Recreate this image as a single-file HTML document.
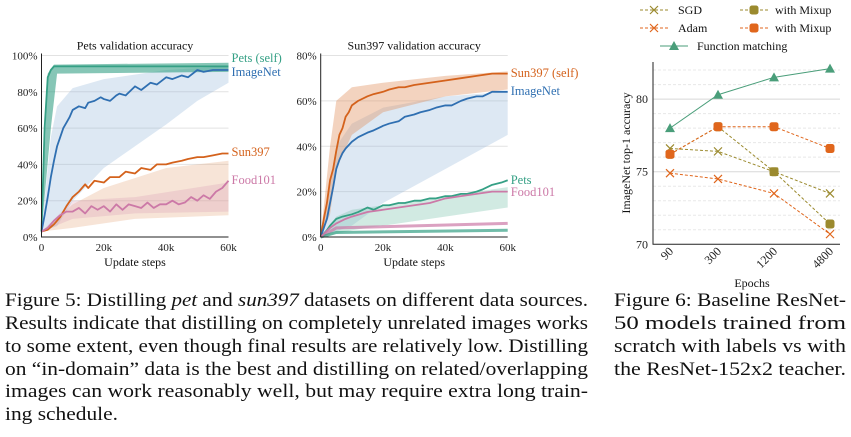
<!DOCTYPE html>
<html><head><meta charset="utf-8">
<style>
body{margin:0;background:#fff;}
svg{display:block;font-family:"Liberation Serif","Times New Roman",serif;}
</style></head>
<body>
<svg id="root" width="851" height="437" viewBox="0 0 851 437">
<g id="c1"></g>
<g id="c2"></g>
<g id="c3"></g>
<g font-size="19" fill="#111">
<text x="5" y="306" textLength="583" lengthAdjust="spacingAndGlyphs">Figure 5: Distilling <tspan font-style="italic">pet</tspan> and <tspan font-style="italic">sun397</tspan> datasets on different data sources.</text>
<text x="5" y="329" textLength="583" lengthAdjust="spacingAndGlyphs">Results indicate that distilling on completely unrelated images works</text>
<text x="5" y="352" textLength="583" lengthAdjust="spacingAndGlyphs">to some extent, even though final results are relatively low. Distilling</text>
<text x="5" y="375" textLength="583" lengthAdjust="spacingAndGlyphs">on “in-domain” data is the best and distilling on related/overlapping</text>
<text x="5" y="397" textLength="583" lengthAdjust="spacingAndGlyphs">images can work reasonably well, but may require extra long train-</text>
<text x="5" y="420" textLength="113" lengthAdjust="spacingAndGlyphs">ing schedule.</text>
</g>
<g font-size="19" fill="#111">
<text x="614" y="306" textLength="232" lengthAdjust="spacingAndGlyphs">Figure 6: Baseline ResNet-</text>
<text x="614" y="329" textLength="232" lengthAdjust="spacingAndGlyphs">50   models   trained   from</text>
<text x="614" y="352" textLength="232" lengthAdjust="spacingAndGlyphs">scratch with labels vs with</text>
<text x="614" y="375" textLength="232" lengthAdjust="spacingAndGlyphs">the ResNet-152x2 teacher.</text>
</g>
</svg>
<script>
// ---------- Pets chart data ----------
const petsTicksY = [0,20,40,60,80,100];
const stepTicks = [0,20,40,60];
const petsSelfX = [0,1,2,3,4,5,10,20,30,40,50,60];
const petsSelfY = [3,60,88,92,94,94,94,94,94,94,94,94];
const petsImgX = [0,1,2,3,4,5,6,7,8,9,10,12,14,15,17,19,20,22,24,25,27,30,32,35,37,40,42,45,47,50,52,55,58,60];
const petsImgY = [3,12,22,33,42,50,55,60,63,66,70,72,71,74,75,77,76,75,78,79,78,83,81,85,84,88,87,89,88,92,91,92,92,92];
const petsSunX = [0,2,4,6,8,10,12,14,15,17,20,22,25,27,30,32,35,37,40,42,45,47,50,52,55,58,60];
const petsSunY = [3,4,7,11,17,22,25,29,27,31,30,33,33,36,35,38,37,40,40,41,42,43,44,44,45,46,46];
const petsFoodX = [0,2,4,6,8,10,12,14,16,18,20,22,24,26,28,30,32,34,36,38,40,42,44,46,48,50,52,54,56,58,60];
const petsFoodY = [3,5,9,12,14,14,16,13,17,15,17,14,18,15,18,17,16,19,16,18,18,20,18,19,22,20,23,21,25,27,31];
const petsCloudImgLo = [[0,3],[5,6],[10,20],[20,38],[30,50],[40,62],[50,75],[60,85]];
const petsCloudImgHi = [[0,3],[3,55],[5,72],[10,82],[20,87],[40,92],[60,94]];
const petsCloudSunLo = [[0,3],[10,5],[30,10],[60,12]];
const petsCloudSunHi = [[0,3],[10,18],[20,27],[40,38],[60,42]];
const petsCloudFoodLo = [[0,3],[10,10],[30,13],[60,14]];
const petsCloudFoodHi = [[0,3],[10,20],[30,22],[60,30]];
const petsCloudSelfLo = [[0,3],[3,60],[5,90],[60,91]];
const petsCloudSelfHi = [[0,3],[2,90],[4,95],[60,96]];
// ---------- Sun397 chart data ----------
const sunTicksY = [0,20,40,60,80];
const sunSelfX = [0,1,2,3,4,5,6,7,8,9,10,12,15,17,20,22,25,27,30,35,40,45,50,55,60];
const sunSelfY = [0,8,15,25,30,38,45,48,53,55,58,60,62,63,64,65,66,66,67,68,69,70,71,72,72];
const sunImgX = [0,2,3,4,5,6,7,8,10,12,15,17,20,22,25,27,30,32,35,37,40,42,45,47,50,52,55,58,60];
const sunImgY = [0,8,15,22,30,34,37,39,42,44,46,47,49,50,51,53,54,55,56,57,58,58,60,61,62,62,64,64,64];
const sunPetsX = [0,2,3,5,7,10,12,15,17,20,22,25,27,30,32,35,37,40,42,45,47,50,52,55,58,60];
const sunPetsY = [0,3,5,8,9,10,11,13,12,14,14,15,15,16,16,17,17,18,18,19,19,20,21,23,24,25];
const sunFoodX = [0,3,5,8,10,15,20,25,30,35,40,45,50,55,60];
const sunFoodY = [0,4,6,8,9,11,12,13,14,15,17,18,19,20,20];
const sunCloudSelfLo = [[0,0],[3,10],[5,30],[10,45],[20,55],[40,62],[60,65]];
const sunCloudSelfHi = [[0,0],[3,40],[5,60],[10,66],[20,68],[40,71],[60,73]];
const sunCloudImgLo = [[0,0],[10,5],[20,15],[40,30],[60,45]];
const sunCloudImgHi = [[0,0],[5,40],[10,50],[20,57],[40,62],[60,64]];
const sunCloudPetsLo = [[0,0],[10,3],[60,13]];
const sunCloudPetsHi = [[0,0],[5,9],[10,12],[60,22]];
const sunFlatPink = [[0,0],[5,4],[60,6]];
const sunFlatGreen = [[0,0],[5,2],[60,3]];
// ---------- ResNet chart data ----------
const epochs = ["90","300","1200","4800"];
const fmVals = [78.0,80.3,81.5,82.1];
const sgdVals = [76.6,76.4,75.0,73.5];
const sgdMixVals = [76.2,78.1,75.0,71.4];
const adamVals = [74.9,74.5,73.5,70.7];
const adamMixVals = [76.2,78.1,78.1,76.6];
const accTicks = [70,75,80];

const NS="http://www.w3.org/2000/svg";
function mk(parent,tag,attrs,txt){const e=document.createElementNS(NS,tag);for(const k in attrs)e.setAttribute(k,attrs[k]);if(txt!==undefined)e.textContent=txt;parent.appendChild(e);return e;}
const TEAL="#35a085",BLUE="#2f6fb1",ORANGE="#d4621c",PINK="#cc79a7";

function lineChart(g,x0,x1,y0,y1,ymax,yTicks,title,cfg){
  const sx=v=>x0+(x1-x0)*v/60, sy=v=>y0-(y0-y1)*v/ymax;
  yTicks.forEach(t=>{
    if(t>0){const l=mk(g,"line",{x1:x0,x2:x1,y1:sy(t),y2:sy(t),stroke:"#e2e2e2","stroke-width":1});
    
    }
    const tx=mk(g,"text",{x:x0-4,y:sy(t)+4,"text-anchor":"end","font-size":11,fill:"#222"},t+"%");
    
    
  });
  stepTicks.forEach(t=>{
    const tx=mk(g,"text",{x:sx(t),y:y0+14,"text-anchor":"middle","font-size":11,fill:"#222"},t===0?"0":t+"k");
    
    
  });
  const tt=mk(g,"text",{x:(x0+x1)/2,y:y1-6,"text-anchor":"middle","font-size":12,fill:"#111"},title);
  
  
  const xl=mk(g,"text",{x:(x0+x1)/2,y:y0+29,"text-anchor":"middle","font-size":12,fill:"#111"},"Update steps");
  
  
  cfg.clouds.forEach(c=>{
    const pts=c.lo.map(p=>sx(p[0])+","+sy(p[1])).concat(c.hi.slice().reverse().map(p=>sx(p[0])+","+sy(p[1])));
    const p=mk(g,"polygon",{points:pts.join(" "),fill:c.color,"fill-opacity":c.op||0.22});
    
    
  });
  (cfg.flats||[]).forEach(f=>{
    const p=mk(g,"polyline",{points:f.pts.map(q=>sx(q[0])+","+sy(q[1])).join(" "),fill:"none",stroke:f.color,"stroke-width":3,"stroke-opacity":0.7});
    
    
  });
  cfg.series.forEach(s=>{
    const p=mk(g,"polyline",{points:s.x.map((v,i)=>sx(v)+","+sy(s.y[i])).join(" "),fill:"none",stroke:s.color,"stroke-width":1.8,"stroke-linejoin":"round"});
    
    
    const t=mk(g,"text",{x:x1+3,y:s.ly,"font-size":12.5,fill:s.color},s.label);
    
    
  });
  const ax=mk(g,"polyline",{points:`${x0},${y1-2} ${x0},${y0} ${x1},${y0}`,fill:"none",stroke:"#222","stroke-width":1});
  
  
}

lineChart(document.getElementById("c1"),41.5,228.5,237,55.5,100,petsTicksY,"Pets validation accuracy",{
  clouds:[{lo:petsCloudImgLo,hi:petsCloudImgHi,color:"#8fb4d8",op:0.3},{lo:petsCloudSunLo,hi:petsCloudSunHi,color:"#e6a47a",op:0.3},{lo:petsCloudFoodLo,hi:petsCloudFoodHi,color:"#d79bb5",op:0.28},{lo:petsCloudSelfLo,hi:petsCloudSelfHi,color:TEAL,op:0.6}],
  series:[
   {name:"pets-self",label:"Pets (self)",color:TEAL,x:petsSelfX,y:petsSelfY,ly:62},
   {name:"imagenet",label:"ImageNet",color:BLUE,x:petsImgX,y:petsImgY,ly:76},
   {name:"sun397",label:"Sun397",color:ORANGE,x:petsSunX,y:petsSunY,ly:156},
   {name:"food101",label:"Food101",color:PINK,x:petsFoodX,y:petsFoodY,ly:184}]
});
lineChart(document.getElementById("c2"),320.7,507.7,237,55.5,80,sunTicksY,"Sun397 validation accuracy",{
  clouds:[{lo:sunCloudImgLo,hi:sunCloudImgHi,color:"#8fb4d8",op:0.3},{lo:sunCloudSelfLo,hi:sunCloudSelfHi,color:"#e09060",op:0.4},{lo:sunCloudPetsLo,hi:sunCloudPetsHi,color:"#7cc4ad",op:0.35}],
  flats:[{pts:sunFlatPink,color:PINK},{pts:sunFlatGreen,color:TEAL}],
  series:[
   {name:"sun397-self",label:"Sun397 (self)",color:ORANGE,x:sunSelfX,y:sunSelfY,ly:77},
   {name:"imagenet",label:"ImageNet",color:BLUE,x:sunImgX,y:sunImgY,ly:95},
   {name:"pets",label:"Pets",color:TEAL,x:sunPetsX,y:sunPetsY,ly:184},
   {name:"food101",label:"Food101",color:PINK,x:sunFoodX,y:sunFoodY,ly:196}]
});

(function(){
  const g=document.getElementById("c3");
  const X0=653,X1=840,Ytop=62,Ybot=244.3;
  const sy=v=>Ybot-(v-70)*14.52;
  const sx=i=>[670,718,774,830][i];
  for(let v=71;v<=82;v++){ if(v===75||v===80)continue;
    const l=mk(g,"line",{x1:X0,x2:X1,y1:sy(v),y2:sy(v),stroke:"#e8e8e8","stroke-dasharray":"3,2"});
    
    }
  accTicks.forEach(t=>{
    if(t>70){const l=mk(g,"line",{x1:X0,x2:X1,y1:sy(t),y2:sy(t),stroke:"#d8d8d8"});
    
    }
    const tx=mk(g,"text",{x:X0-5,y:sy(t)+4,"text-anchor":"end","font-size":12,fill:"#222"},t);
    
    
  });
  epochs.forEach((e,i)=>{
    const tx=mk(g,"text",{x:sx(i)+4,y:252,"text-anchor":"end","font-size":12,fill:"#222",transform:`rotate(-45 ${sx(i)+4} 252)`},e);
    
    
  });
  const yl=mk(g,"text",{x:0,y:0,"text-anchor":"middle","font-size":12,fill:"#111",transform:"translate(630 153) rotate(-90)"},"ImageNet top-1 accuracy");
  
  
  const xl=mk(g,"text",{x:752,y:287,"text-anchor":"middle","font-size":12,fill:"#111"},"Epochs");
  
  
  function marker(p,type,x,y,c){
    if(type==="x"){mk(p,"path",{d:`M${x-4},${y-4}L${x+4},${y+4}M${x-4},${y+4}L${x+4},${y-4}`,stroke:c,"stroke-width":1.2});}
    else if(type==="sq"){mk(p,"rect",{x:x-4.5,y:y-4.5,width:9,height:9,rx:2.5,fill:c});}
    else {mk(p,"polygon",{points:`${x},${y-5} ${x+5},${y+4} ${x-5},${y+4}`,fill:c});}
  }
  const OL="#9b8a2e",OR="#e0661c",GR="#4a9e7a";
  const series=[
    {name:"adam",vals:adamVals,c:OR,m:"x",dash:"3,2"},
    {name:"sgd",vals:sgdVals,c:OL,m:"x",dash:"3,2"},
    {name:"sgd-mixup",vals:sgdMixVals,c:OL,m:"sq",dash:"3,2"},
    {name:"adam-mixup",vals:adamMixVals,c:OR,m:"sq",dash:"3,2"},
    {name:"function-matching",vals:fmVals,c:GR,m:"tri",dash:"none"}];
  series.forEach(s=>{
    const sg=mk(g,"g",{});
    
    
    mk(sg,"polyline",{points:s.vals.map((v,i)=>sx(i)+","+sy(v)).join(" "),fill:"none",stroke:s.c,"stroke-width":1,"stroke-dasharray":s.dash});
    s.vals.forEach((v,i)=>marker(sg,s.m,sx(i),sy(v),s.c));
  });
  const ax=mk(g,"polyline",{points:`${X0},${Ytop} ${X0},${Ybot} ${X1},${Ybot}`,fill:"none",stroke:"#222"});
  
  
  const leg=[
    {t:"SGD",x:640,y:10,c:OL,m:"x",d:"3,2",tx:678},
    {t:"with Mixup",x:740,y:10,c:OL,m:"sq",d:"3,2",tx:775},
    {t:"Adam",x:640,y:28,c:OR,m:"x",d:"3,2",tx:678},
    {t:"with Mixup",x:740,y:28,c:OR,m:"sq",d:"3,2",tx:775},
    {t:"Function matching",x:660,y:46,c:GR,m:"tri",d:"none",tx:697}];
  leg.forEach(l=>{
    const lg=mk(g,"g",{});
    
    
    mk(lg,"line",{x1:l.x,x2:l.x+28,y1:l.y,y2:l.y,stroke:l.c,"stroke-dasharray":l.d});
    marker(lg,l.m,l.x+14,l.y,l.c);
    mk(lg,"text",{x:l.tx,y:l.y+4,"font-size":12,fill:"#111"},l.t);
  });
})();
</script>
</body></html>
